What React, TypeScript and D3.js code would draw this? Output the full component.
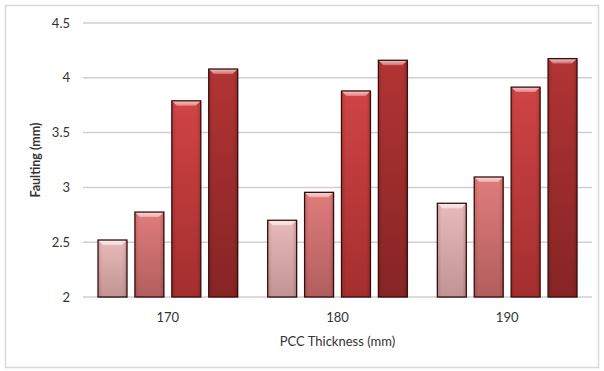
import React from "react";
import * as d3 from "d3";

// Faulting vs PCC slab thickness, four series per thickness
const categories = ["170", "180", "190"];
const seriesA = [2.52, 2.70, 2.855];
const seriesB = [2.775, 2.955, 3.095];
const seriesC = [3.79, 3.88, 3.915];
const seriesD = [4.08, 4.16, 4.175];
const yTicks = [2, 2.5, 3, 3.5, 4, 4.5];

const series = [seriesA, seriesB, seriesC, seriesD];

// [top, bottom, bevel] colours per series
const palette = [
  ["#e8baba", "#c29393", "#f6dcdc"],
  ["#e07c7c", "#b25e5e", "#f2acac"],
  ["#d04444", "#a42e2e", "#ea8080"],
  ["#b23434", "#862424", "#d66a6a"],
];

const W = 604;
const H = 371;
const left = 83;
const right = 592;
const top = 23;
const bottom = 297;
const font = "Lato, 'Open Sans', sans-serif";

export default function App() {
  const x0 = d3.scaleBand<string>().domain(categories).range([left, right]).padding(0);
  const bw = x0.bandwidth();
  const x1 = d3
    .scaleBand<number>()
    .domain(d3.range(series.length))
    .range([bw * 0.0885, bw * 0.9115])
    .paddingInner(0.216)
    .paddingOuter(0);
  const y = d3.scaleLinear().domain([2, 4.5]).range([bottom, top]);

  return (
    <svg width={W} height={H} style={{ position: "absolute", left: 0, top: 0 }}>
      <defs>
        {palette.map((c, i) => (
          <linearGradient key={i} id={`g${i}`} x1="0" y1="0" x2="0" y2="1">
            <stop offset="0" stopColor={c[0]} />
            <stop offset="1" stopColor={c[1]} />
          </linearGradient>
        ))}
        {palette.map((c, i) => (
          <linearGradient key={`h${i}`} id={`h${i}`} x1="0" y1="0" x2="0" y2="1">
            <stop offset="0" stopColor="#ffffff" stopOpacity={0.7} />
            <stop offset="1" stopColor={c[2]} stopOpacity={0.9} />
          </linearGradient>
        ))}
        <linearGradient id="side" x1="0" y1="0" x2="1" y2="0">
          <stop offset="0" stopColor="#000" stopOpacity={0.12} />
          <stop offset="0.15" stopColor="#000" stopOpacity={0} />
          <stop offset="0.85" stopColor="#000" stopOpacity={0} />
          <stop offset="1" stopColor="#000" stopOpacity={0.15} />
        </linearGradient>
      </defs>
      <rect x={0} y={0} width={W} height={H} fill="#fff" />
      <rect x={5.5} y={5.5} width={593} height={362} fill="#fff" stroke="#d9d9d9" strokeWidth={1.5} />

      {yTicks.map((t) => (
        <g key={t}>
          <line x1={left} x2={right} y1={y(t)} y2={y(t)} stroke="#cfcfcf" strokeWidth={1.5} />
          <text x={70} y={y(t)} dy="0.35em" textAnchor="end" fontFamily={font} fontSize={13} fill="#333">
            {t}
          </text>
        </g>
      ))}

      {categories.map((cat, ci) => (
        <g key={cat}>
          {series.map((s, si) => {
            const bx = (x0(cat) as number) + (x1(si) as number);
            const w = x1.bandwidth();
            const by = y(s[ci]);
            const h = bottom - by;
            const bev = 5;
            return (
              <g key={si}>
                <rect x={bx + 1} y={by + 1} width={w} height={h} fill="#000" opacity={0.12} />
                <rect x={bx} y={by} width={w} height={h} fill={`url(#g${si})`} />
                <rect x={bx} y={by} width={w} height={h} fill="url(#side)" />
                <polygon
                  points={`${bx},${by} ${bx + w},${by} ${bx + w - bev},${by + bev} ${bx + bev},${by + bev}`}
                  fill={`url(#h${si})`}
                />
                <rect x={bx} y={by} width={w} height={h} fill="none" stroke="#3c0c0c" strokeWidth={1.3} />
              </g>
            );
          })}
          <text
            x={(x0(cat) as number) + bw / 2}
            y={317}
            dy="0.35em"
            textAnchor="middle"
            fontFamily={font}
            fontSize={13}
            fill="#333"
          >
            {cat}
          </text>
        </g>
      ))}

      <text x={(left + right) / 2} y={341} dy="0.35em" textAnchor="middle" fontFamily={font} fontSize={13} fill="#333">
        PCC Thickness (mm)
      </text>
      <text
        transform={`translate(36,${(top + bottom) / 2}) rotate(-90)`}
        dy="0.35em"
        textAnchor="middle"
        fontFamily={font}
        fontSize={12.5}
        fontWeight="bold"
        fill="#333"
      >
        Faulting (mm)
      </text>
    </svg>
  );
}
